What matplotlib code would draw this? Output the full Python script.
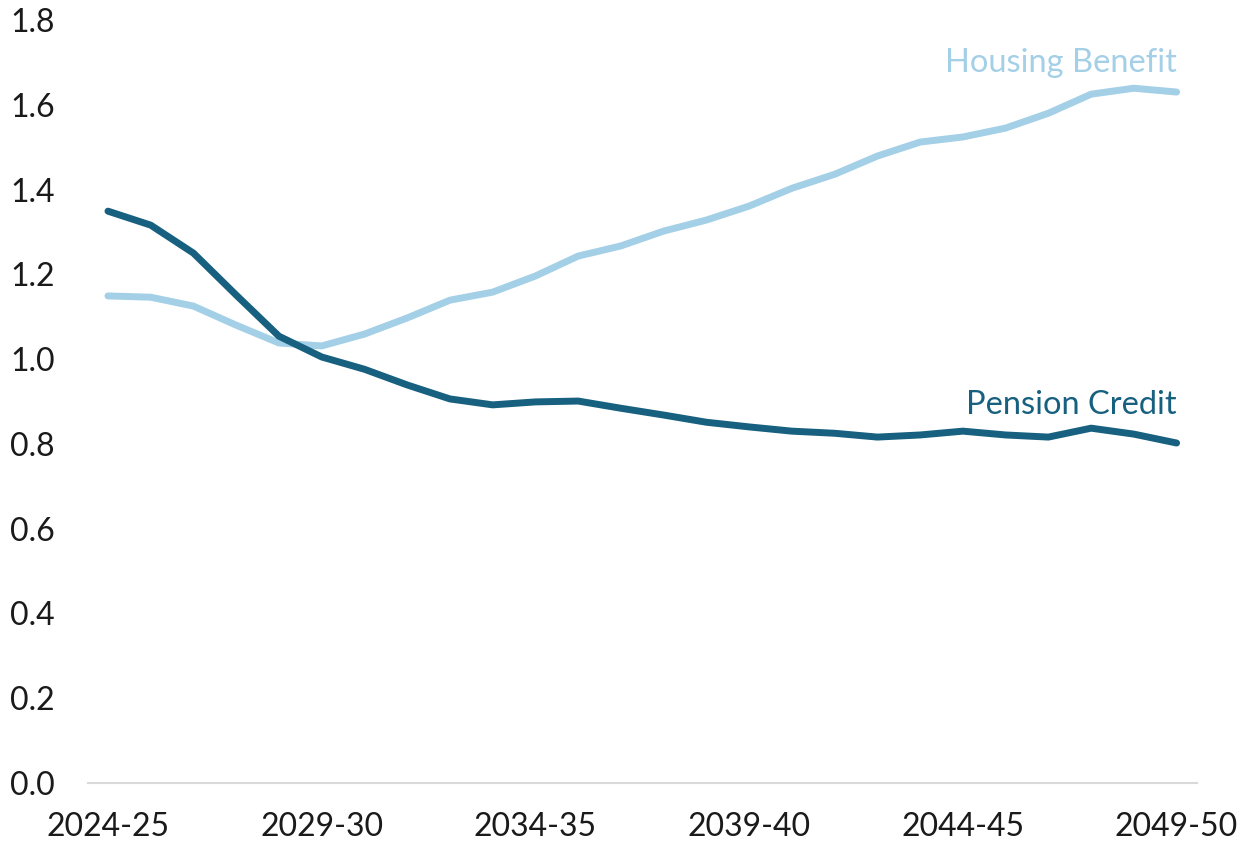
import numpy as np
import matplotlib
matplotlib.use('Agg')
import matplotlib.pyplot as plt

# 数据
years = ['2024-25', '2025-26', '2026-27', '2027-28', '2028-29', '2029-30',
         '2030-31', '2031-32', '2032-33', '2033-34', '2034-35', '2035-36',
         '2036-37', '2037-38', '2038-39', '2039-40', '2040-41', '2041-42',
         '2042-43', '2043-44', '2044-45', '2045-46', '2046-47', '2047-48',
         '2048-49', '2049-50']
pension_credit = [1.349, 1.316, 1.250, 1.151, 1.054, 1.005, 0.976, 0.939,
                  0.906, 0.892, 0.899, 0.901, 0.884, 0.868, 0.851, 0.840,
                  0.830, 0.825, 0.816, 0.821, 0.830, 0.821, 0.816, 0.837,
                  0.823, 0.802]
housing_benefit = [1.149, 1.146, 1.125, 1.080, 1.038, 1.031, 1.059, 1.097,
                   1.139, 1.158, 1.196, 1.243, 1.267, 1.302, 1.328, 1.361,
                   1.403, 1.436, 1.479, 1.512, 1.524, 1.545, 1.580, 1.625,
                   1.639, 1.630]
y_ticks = [0.0, 0.2, 0.4, 0.6, 0.8, 1.0, 1.2, 1.4, 1.6, 1.8]

dark = '#17607f'
light = '#a3cfe7'

plt.rcParams['font.family'] = ['Lato', 'DejaVu Sans']

fig = plt.figure(figsize=(12.53, 8.47), dpi=100)
ax = fig.add_axes([0.0702, 0.0756, 0.8848, 0.9008])

x = np.arange(len(years))
ax.plot(x, housing_benefit, color=light, lw=5, solid_capstyle='round', solid_joinstyle='round')
ax.plot(x, pension_credit, color=dark, lw=5, solid_capstyle='round', solid_joinstyle='round')

ax.text(25, 1.698, 'Housing Benefit', color=light, fontsize=23.5, ha='right', va='center')
ax.text(25, 0.892, 'Pension Credit', color=dark, fontsize=23.5, ha='right', va='center')

ax.set_xlim(-0.468, 25.468)
ax.set_ylim(0, 1.8)
ax.set_xticks(x[::5])
ax.set_xticklabels(years[::5])
ax.set_yticks(y_ticks)
ax.set_yticklabels([f'{v:.1f}' for v in y_ticks], ha='left')
ax.tick_params(axis='both', length=0, labelsize=23, colors='#1a1a1a')
ax.tick_params(axis='y', pad=56)  # pad in points -> ~78 px, left edge near x=10
ax.tick_params(axis='x', pad=21)
for s in ['top', 'right', 'left']:
    ax.spines[s].set_visible(False)
ax.spines['bottom'].set_color('#d9d9d9')
ax.spines['bottom'].set_linewidth(1.5)

plt.savefig('out.png', dpi=100)
